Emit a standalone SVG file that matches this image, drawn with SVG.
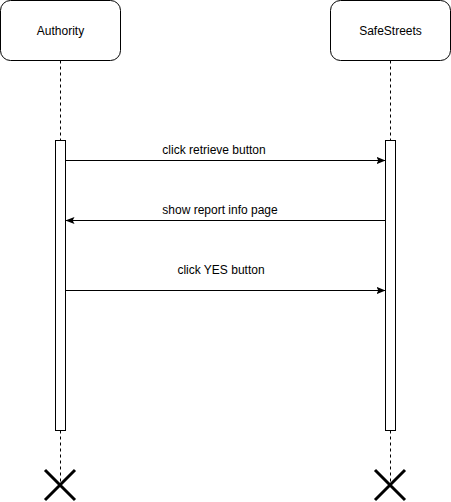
<svg xmlns="http://www.w3.org/2000/svg" width="451" height="502" viewBox="0 0 451 502">
<style>
.box{fill:#fff;stroke:#000;stroke-width:1}
.life{stroke:#000;stroke-width:1;stroke-dasharray:3 3;fill:none}
.act{fill:#fff;stroke:#000;stroke-width:1}
.msg{stroke:#000;stroke-width:1;fill:none}
.t{font-family:"Liberation Sans",Arial,sans-serif;fill:#000}
.x{stroke:#000;stroke-width:3;fill:none}
</style>
<defs>
<marker id="ah" viewBox="0 0 10 10" refX="10" refY="5" markerWidth="9" markerHeight="9" markerUnits="userSpaceOnUse" orient="auto">
<path d="M0,1 L10,5 L0,9 L2,5 Z" fill="#000"/>
</marker>
</defs>
<rect width="451" height="502" fill="#fff"/>
<g id="authority">
<rect class="box" x="0.5" y="0.5" width="120" height="60" rx="10"/>
<text class="t" x="60.5" y="34.5" font-size="12" text-anchor="middle">Authority</text>
<line class="life" x1="60.5" y1="60.5" x2="60.5" y2="140.5"/>
<rect class="act" x="55.5" y="140.5" width="10" height="290"/>
<line class="life" x1="60.5" y1="430.5" x2="60.5" y2="485"/>
<path class="x" d="M45,470 L75,500 M75,470 L45,500"/>
</g>
<g id="safestreets">
<rect class="box" x="330.5" y="0.5" width="120" height="60" rx="10"/>
<text class="t" x="390.5" y="34.5" font-size="12" text-anchor="middle">SafeStreets</text>
<line class="life" x1="390.5" y1="60.5" x2="390.5" y2="140.5"/>
<rect class="act" x="385.5" y="140.5" width="10" height="290"/>
<line class="life" x1="390.5" y1="430.5" x2="390.5" y2="485"/>
<path class="x" d="M375,470 L405,500 M405,470 L375,500"/>
</g>
<g id="connectors">
<line class="msg" x1="65.5" y1="160.5" x2="385.5" y2="160.5" marker-end="url(#ah)"/>
<text class="t" x="214" y="154" font-size="12" text-anchor="middle">click retrieve button</text>
<line class="msg" x1="385.5" y1="220.5" x2="65.5" y2="220.5" marker-end="url(#ah)"/>
<text class="t" x="220" y="214" font-size="12" text-anchor="middle">show report info page</text>
<line class="msg" x1="65.5" y1="290.5" x2="385.5" y2="290.5" marker-end="url(#ah)"/>
<text class="t" x="221" y="274" font-size="12" text-anchor="middle">click YES button</text>
</g>
</svg>
